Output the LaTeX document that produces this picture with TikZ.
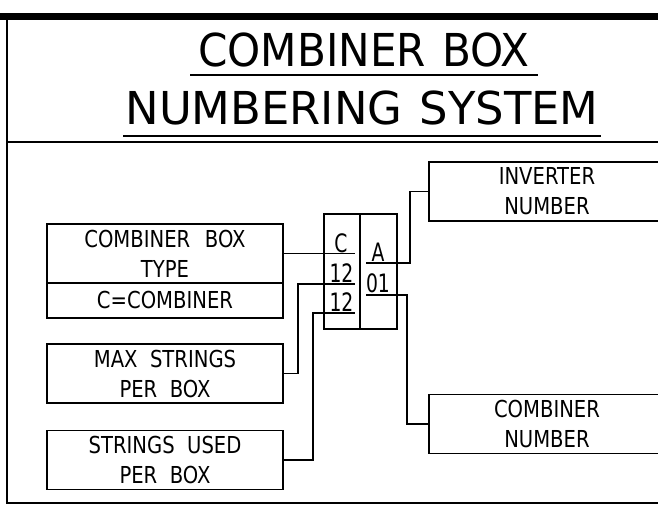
\documentclass[tikz,border=0pt]{standalone}
\usepackage{fontspec}
\setmainfont{DejaVu Sans}
\newfontfamily\boxfont{DejaVu Sans}[FakeStretch=0.84,WordSpace=2]
\newfontfamily\digitfont{DejaVu Sans}[FakeStretch=0.74]
\newfontfamily\titlefont{DejaVu Sans}[FakeStretch=0.93,WordSpace=1.2]
\newfontfamily\titlefontwide{DejaVu Sans}[FakeStretch=0.99,WordSpace=1.2]

\tikzset{
  infobox/.style={draw, line width=1.4pt, minimum width=177pt, minimum height=44.25pt,
    inner sep=0pt, align=center, font=\boxfont\fontsize{17.5}{22.5}\selectfont},
  column/.style={draw, line width=1.4pt, minimum height=86.25pt, inner sep=0pt},
  digitlabel/.style={anchor=base, inner sep=0pt, font=\digitfont\fontsize{19}{20}\selectfont},
  wire/.style={line width=1.4pt},
  titletext/.style={anchor=base, inner xsep=6pt, inner ysep=6pt,
    font=\titlefont\fontsize{34}{40}\selectfont},
  frame/.style={line width=1.6pt}
}

\begin{document}
\begin{tikzpicture}[x=0.75pt,y=-0.75pt]
\clip (0,0) rectangle (658,508);
% Sheet border
\draw[line width=5.25pt] (0,16.5) -- (658,16.5);
\draw[frame] (7,19) -- (7,503) -- (658,503);
\draw[frame] (7,142) -- (658,142);
% Title
\node[titletext] (title1) at (364,66) {COMBINER BOX};
\node[titletext, inner ysep=8.25pt, inner xsep=1.5pt,
  font=\titlefontwide\fontsize{34}{40}\selectfont] (title2) at (362,124) {NUMBERING SYSTEM};
\draw[frame] (title1.south west) -- (title1.south east);
\draw[frame] (title2.south west) -- (title2.south east);
% Number block
\node[column, minimum width=27pt] (colL) at (342,271.5) {};
\node[column, minimum width=27.75pt] (colR) at (378.5,271.5) {};
\node[digitlabel] (lblC) at (341,252) {C};
\node[digitlabel] (lblMax) at (341.5,282) {12};
\node[digitlabel] (lblUsed) at (341.5,311) {12};
\node[digitlabel] (lblInv) at (378,261) {A};
\node[digitlabel] (lblNum) at (378,292) {01};
\coordinate (uC) at (355,253.5);
\coordinate (uMax) at (355,284);
\coordinate (uUsed) at (355,313);
\coordinate (uInv) at (366,263);
\coordinate (uNum) at (366,295);
% Description boxes
\node[infobox] (typebox) at (165,253.5) {COMBINER\hspace{11pt}BOX\\TYPE};
\node[infobox, minimum height=26.25pt] (kindbox) at (165,300.5) {C=COMBINER};
\node[infobox] (maxbox) at (165,373.5) {MAX STRINGS\\PER BOX};
\node[infobox] (usedbox) at (165,460) {STRINGS USED\\PER BOX};
\node[infobox] (invbox) at (547,191.5) {INVERTER\\NUMBER};
\node[infobox] (numbox) at (547,424) {COMBINER\\NUMBER};
% Leaders
\draw[wire] (typebox.east) -- (uC);
\draw[wire] (maxbox.east) -- ++(14,0) |- (uMax);
\draw[wire] (usedbox.east) -- ++(29,0) |- (uUsed);
\draw[wire] (uInv) -- ++(44,0) |- (invbox.west);
\draw[wire] (uNum) -- ++(41,0) |- (numbox.west);
\end{tikzpicture}
\end{document}
